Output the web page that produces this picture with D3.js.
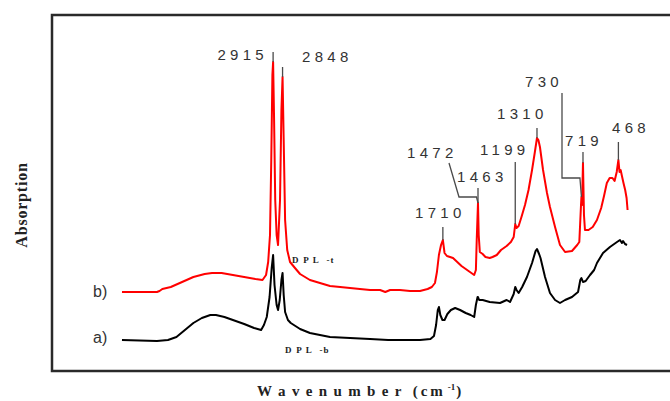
<!DOCTYPE html>
<html>
<head>
<meta charset="utf-8">
<script src="https://cdn.jsdelivr.net/npm/d3@7"></script>
<style>
  html, body { margin: 0; padding: 0; background: #fff; }
  svg { display: block; }
</style>
</head>
<body>
<svg id="chart" width="670" height="401"></svg>
<script>
// FTIR spectra of DPL samples: wavenumber (cm-1) vs. absorption (arbitrary units, offset traces)

// b) DPL-t (red trace)
const bWave = [3986, 3738, 3720, 3700, 3640, 3560, 3480, 3400, 3348, 3280, 3200, 3120, 3040, 2990,
  2965, 2950, 2937, 2928, 2920, 2915, 2908, 2900, 2890, 2880, 2866, 2856, 2848, 2840, 2830, 2815,
  2795, 2760, 2724, 2654, 2583, 2512, 2440, 2370, 2300, 2228, 2157, 2120, 2086, 2016, 1945, 1874,
  1820, 1790, 1768, 1754, 1740, 1725, 1712, 1700, 1683, 1661, 1640, 1610, 1580, 1540, 1510, 1490,
  1478, 1472, 1466, 1463, 1458, 1450, 1430, 1410, 1380, 1360, 1330, 1300, 1260, 1230, 1210, 1199,
  1190, 1175, 1155, 1130, 1105, 1080, 1060, 1045, 1035, 1024, 1002, 974, 953, 917, 882, 846, 797,
  760, 745, 733, 730, 726, 719, 712, 705, 680, 650, 620, 590, 570, 550, 530, 510, 495, 480, 468,
  460, 452, 443, 432, 420, 410, 403];
const bAbs = [0.78, 0.78, 0.79, 0.81, 0.83, 0.88, 0.93, 0.96, 0.97, 0.97, 0.95, 0.93, 0.91, 0.90,
  0.95, 1.08, 1.35, 2.10, 2.95, 3.08, 2.50, 1.70, 1.35, 1.25, 1.70, 2.60, 2.93, 2.30, 1.50, 1.20,
  1.08, 1.02, 0.96, 0.90, 0.87, 0.84, 0.83, 0.82, 0.81, 0.80, 0.80, 0.78, 0.80, 0.80, 0.79, 0.79,
  0.81, 0.83, 0.87, 0.98, 1.15, 1.25, 1.30, 1.17, 1.14, 1.13, 1.12, 1.08, 1.04, 1.00, 0.97, 0.95,
  1.00, 1.30, 1.55, 1.67, 1.35, 1.18, 1.16, 1.13, 1.12, 1.13, 1.15, 1.20, 1.24, 1.28, 1.33, 1.46,
  1.42, 1.44, 1.53, 1.65, 1.80, 2.00, 2.18, 2.32, 2.30, 2.23, 2.00, 1.77, 1.63, 1.43, 1.25, 1.18, 1.19,
  1.25, 1.28, 1.65, 1.73, 1.65, 2.07, 1.55, 1.40, 1.40, 1.43, 1.50, 1.62, 1.74, 1.87, 1.92, 1.92, 1.89, 1.98, 2.10,
  1.98, 2.00, 1.94, 1.87, 1.80, 1.72, 1.60];

// a) DPL-b (black trace)
const aWave = [3986, 3738, 3660, 3600, 3540, 3480, 3420, 3360, 3320, 3260, 3200, 3120, 3050, 3000,
  2980, 2960, 2940, 2925, 2915, 2905, 2890, 2880, 2868, 2856, 2848, 2840, 2830, 2810, 2790, 2724,
  2654, 2583, 2512, 2370, 2228, 2100, 2000, 1874, 1800, 1775, 1760, 1748, 1740, 1730, 1715, 1700,
  1680, 1655, 1625, 1590, 1550, 1515, 1490, 1478, 1466, 1463, 1455, 1430, 1380, 1307, 1260, 1236,
  1210, 1199, 1190, 1175, 1150, 1116, 1080, 1055, 1045, 1030, 1020, 988, 953, 917, 882, 846, 797,
  754, 738, 730, 719, 700, 669, 640, 620, 577, 528, 478, 457, 443, 435, 421, 407];
const aAbs = [0.30, 0.29, 0.30, 0.33, 0.40, 0.47, 0.52, 0.55, 0.55, 0.53, 0.50, 0.46, 0.42, 0.40,
  0.45, 0.53, 0.73, 1.02, 1.15, 0.85, 0.65, 0.60, 0.70, 0.90, 0.97, 0.75, 0.58, 0.50, 0.47, 0.41,
  0.37, 0.35, 0.33, 0.32, 0.31, 0.30, 0.30, 0.30, 0.31, 0.34, 0.45, 0.60, 0.63, 0.55, 0.50, 0.50,
  0.56, 0.60, 0.62, 0.60, 0.57, 0.55, 0.53, 0.65, 0.73, 0.73, 0.70, 0.70, 0.68, 0.67, 0.70, 0.68,
  0.76, 0.83, 0.80, 0.77, 0.83, 0.93, 1.07, 1.19, 1.21, 1.16, 1.12, 0.93, 0.77, 0.70, 0.67, 0.70, 0.73,
  0.78, 0.90, 0.92, 0.88, 0.89, 0.95, 1.00, 1.07, 1.17, 1.23, 1.28, 1.30, 1.27, 1.29, 1.26, 1.25];

// Peak annotations on trace b)
const peakText = ["2915", "2848", "1710", "1472", "1463", "1199", "1310", "730", "719", "468"];
const peakAt   = [2915, 2848, 1712, 1463, 1463, 1199, 1045, 730, 719, 468];

const seriesNames = ["b)", "a)"];
const sampleNames = ["D P L  -t", "D P L  -b"];
const xTitle = "W a v e n u m b e r";
const yTitle = "Absorption";

const svg = d3.select("#chart");

const frame = { left: 52, top: 15, right: 690, bottom: 371 };
const x = d3.scaleLinear().domain([4000, 400]).range([120, 628]);
const y = d3.scaleLinear().domain([0, 3.55]).range([370, 15]);

const bData = bWave.map((w, i) => [w, bAbs[i]]);
const aData = aWave.map((w, i) => [w, aAbs[i]]);

// value of a trace at a given wavenumber (linear interpolation between readings)
function valueAt(data, w) {
  for (let i = 0; i < data.length - 1; i++) {
    const [w0, v0] = data[i], [w1, v1] = data[i + 1];
    if ((w0 - w) * (w1 - w) <= 0) {
      const t = w0 === w1 ? 0 : (w - w0) / (w1 - w0);
      return v0 + t * (v1 - v0);
    }
  }
  return data[data.length - 1][1];
}

// plot frame
svg.append("rect")
  .attr("x", frame.left).attr("y", frame.top)
  .attr("width", frame.right - frame.left).attr("height", frame.bottom - frame.top)
  .attr("fill", "none").attr("stroke", "#2a2a2a").attr("stroke-width", 2.5);

const line = d3.line().x(d => x(d[0])).y(d => y(d[1]));

svg.append("path").datum(bData)
  .attr("d", line).attr("fill", "none")
  .attr("stroke", "#ff0000").attr("stroke-width", 2).attr("stroke-linejoin", "round");

svg.append("path").datum(aData)
  .attr("d", line).attr("fill", "none")
  .attr("stroke", "#000").attr("stroke-width", 2).attr("stroke-linejoin", "round");

// leader lines and peak labels
const labelFont = "'Liberation Sans', Arial, sans-serif";
const leaderLayout = {
  "2915": { tx: 268, ty: 60, anchor: "end", top: 52 },
  "2848": { tx: 302, ty: 62, anchor: "start", top: 67 },
  "1710": { tx: 415, ty: 218, anchor: "start", top: 227 },
  "1472": { tx: 407, ty: 158, anchor: "start", path: [[449, 163], [459, 197]], join: 197 },
  "1463": { tx: 457, ty: 182, anchor: "start", top: 188 },
  "1199": { tx: 480, ty: 155, anchor: "start", top: 162 },
  "1310": { tx: 497, ty: 119, anchor: "start", top: 128 },
  "730":  { tx: 525, ty: 87, anchor: "start", path: [[562, 93], [562, 178]], join: 178 },
  "719":  { tx: 565, ty: 146, anchor: "start", top: 152 },
  "468":  { tx: 612, ty: 133, anchor: "start", top: 142 }
};

const ann = svg.append("g");
peakText.forEach((t, i) => {
  const L = leaderLayout[t];
  const px = x(peakAt[i]);
  const py = y(valueAt(bData, peakAt[i]));
  let pts;
  if (L.path) {
    pts = L.path.concat([[px - 1.5, L.join], [px, Math.max(py, L.join + 4)]]);
  } else {
    pts = [[px, L.top], [px, py]];
  }
  ann.append("path")
    .attr("d", d3.line()(pts))
    .attr("fill", "none").attr("stroke", "#4a4a4a").attr("stroke-width", 1.3);
  ann.append("text")
    .attr("x", L.tx).attr("y", L.ty)
    .attr("text-anchor", L.anchor)
    .attr("font-family", labelFont).attr("font-size", 15)
    .attr("letter-spacing", 4.3)
    .attr("fill", "#333")
    .text(t);
});

// series labels
svg.append("text").attr("x", 93).attr("y", 297)
  .attr("font-family", labelFont).attr("font-size", 16).attr("fill", "#333")
  .text(seriesNames[0]);
svg.append("text").attr("x", 93).attr("y", 343)
  .attr("font-family", labelFont).attr("font-size", 16).attr("fill", "#333")
  .text(seriesNames[1]);

// sample names next to the CH2 stretching bands
const serif = "'Liberation Serif', 'Times New Roman', serif";
svg.append("text").attr("x", 292).attr("y", 263)
  .attr("font-family", serif).attr("font-weight", "bold").attr("font-size", 9)
  .attr("letter-spacing", 1.2).attr("fill", "#222").attr("xml:space", "preserve")
  .text(sampleNames[0]);
svg.append("text").attr("x", 285).attr("y", 353)
  .attr("font-family", serif).attr("font-weight", "bold").attr("font-size", 9)
  .attr("letter-spacing", 1.2).attr("fill", "#222").attr("xml:space", "preserve")
  .text(sampleNames[1]);

// axis titles
const xt = svg.append("text").attr("x", 257).attr("y", 396)
  .attr("font-family", serif).attr("font-weight", "bold").attr("font-size", 15)
  .attr("fill", "#222").attr("xml:space", "preserve");
xt.append("tspan").attr("letter-spacing", 1.3).text(xTitle);
xt.append("tspan").attr("dx", 10).attr("letter-spacing", 3).text("(cm");
xt.append("tspan").attr("dx", 2).attr("dy", -6).attr("font-size", 9).text("-1");
xt.append("tspan").attr("dy", 6).attr("dx", 1).text(")");

svg.append("text")
  .attr("transform", "translate(27,205) rotate(-90)")
  .attr("text-anchor", "middle")
  .attr("font-family", serif).attr("font-weight", "bold").attr("font-size", 16)
  .attr("letter-spacing", 0.8).attr("fill", "#222")
  .text(yTitle);
</script>
</body>
</html>
